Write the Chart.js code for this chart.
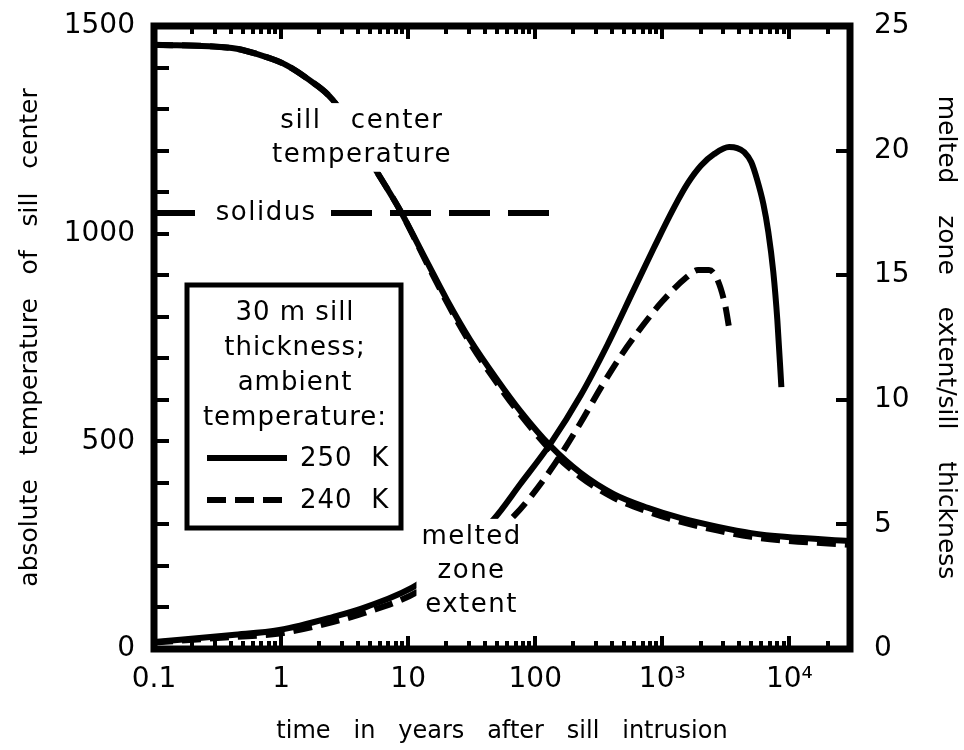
<!DOCTYPE html>
<html>
<head>
<meta charset="utf-8">
<script src="https://cdn.jsdelivr.net/npm/chart.js@4.4.1/dist/chart.umd.min.js"></script>
<style>
  html, body { margin: 0; padding: 0; background: #fff; }
</style>
</head>
<body>
<canvas id="myChart" width="964" height="750"></canvas>
<script>
// time axis (years after intrusion)
var tickTimes = [0.1, 1, 10, 100, 1000, 10000];
var tickTimeLabels = ['0.1', '1', '10', '100', '10\u00B3', '10\u2074'];
var tickTemps = [0, 500, 1000, 1500];
var tickMelt = [0, 5, 10, 15, 20, 25];

// sill center temperature (K)
var timeTemp = [0.1, 0.41, 0.77, 1.1, 1.58, 2.55, 5.67, 8.61, 14.08, 20.25, 30.8, 50.3, 76.4, 131.8, 227.5, 415, 769, 1403, 2750, 5010, 9140, 30000];
var temp250 = [1455, 1447, 1425, 1406, 1375, 1322, 1149, 1057, 932, 840, 744, 648, 573, 489, 424, 373, 340, 315, 294, 279, 270, 260];
var temp240 = [1455, 1447, 1425, 1406, 1375, 1322, 1149, 1057, 928, 834, 736, 639, 564, 479, 414, 364, 331, 306, 285, 270, 261, 251];

// melted zone extent / sill thickness
var timeMelt250 = [0.1, 0.413, 0.97, 2.55, 4.7, 12.4, 46.6, 76.4, 131.8, 227.5, 372, 597, 859, 1236, 1593, 2018, 2557, 3360, 3880, 4415, 5010, 5585, 6240, 6830, 7475, 8040, 8650];
var melt250 = [0.28, 0.56, 0.76, 1.28, 1.69, 2.65, 5.18, 6.62, 8.24, 10.17, 12.23, 14.42, 16.1, 17.71, 18.7, 19.4, 19.86, 20.14, 20.1, 19.94, 19.54, 18.82, 17.86, 16.73, 15.13, 13.2, 10.51];
var timeMelt240 = [0.1, 0.413, 0.97, 2.55, 4.7, 12.4, 67, 132, 227, 327, 471, 678, 993, 1563, 1910, 2330, 2700, 3122, 3357];
var melt240 = [0.26, 0.48, 0.62, 1.08, 1.47, 2.35, 5.3, 7.18, 9.07, 10.47, 11.76, 12.88, 13.93, 14.93, 15.21, 15.21, 14.85, 13.8, 12.88];

// solidus
var solidusTime = [0.1, 135];
var solidusTemp = 1050;

var FONT = '"DejaVu Sans", Verdana, sans-serif';
var dash240 = [19, 9];

function toPoints(xs, ys) {
    return xs.map(function(t, i) { return {x: t, y: ys[i]}; });
}

// box round the plot and ticks pointing inwards
var frameAndTicks = {
    id: 'frameAndTicks',
    afterDatasetsDraw: function(chart) {
        var ctx = chart.ctx, a = chart.chartArea, sc = chart.scales;
        ctx.save();
        ctx.strokeStyle = '#000';
        ctx.lineWidth = 4;
        ctx.beginPath();
        for (var d = -1; d <= 4; d++) {
            for (var m = 1; m <= 9; m++) {
                var v = m * Math.pow(10, d);
                if (v > sc.x.max) break;
                var px = Math.round(sc.x.getPixelForValue(v));
                var len = m === 1 ? 13 : 8;
                ctx.moveTo(px, a.bottom); ctx.lineTo(px, a.bottom - len);
                ctx.moveTo(px, a.top); ctx.lineTo(px, a.top + len);
            }
        }
        for (var t = 100; t < sc.y.max; t += 100) {
            var py = Math.round(sc.y.getPixelForValue(t));
            ctx.moveTo(a.left, py); ctx.lineTo(a.left + 15, py);
        }
        for (var k = 5; k < sc.y2.max; k += 5) {
            var py2 = Math.round(sc.y2.getPixelForValue(k));
            ctx.moveTo(a.right, py2); ctx.lineTo(a.right - 14, py2);
        }
        ctx.stroke();
        ctx.lineWidth = 7;
        ctx.strokeRect(a.left, a.top, a.right - a.left, a.bottom - a.top);
        ctx.restore();
    }
};

// curve labels, with white behind them
var notes = {
    id: 'notes',
    afterDatasetsDraw: function(chart) {
        var ctx = chart.ctx, x = chart.scales.x, y = chart.scales.y;
        var groups = [
            {t: 4.25, T: [1271, 1190], lines: ['sill   center', 'temperature']},
            {t: 0.75, T: [1050], lines: ['solidus']},
            {t: 31, T: [270, 186, 106], lines: ['melted', 'zone', 'extent']}
        ];
        ctx.save();
        ctx.font = '26px ' + FONT;
        ctx.letterSpacing = '1.5px';
        ctx.textAlign = 'center';
        ctx.textBaseline = 'middle';
        groups.forEach(function(g) {
            var cx = x.getPixelForValue(g.t);
            var w = 0;
            g.lines.forEach(function(s) { w = Math.max(w, ctx.measureText(s).width); });
            var top = y.getPixelForValue(g.T[0]) - 18;
            var bot = y.getPixelForValue(g.T[g.T.length - 1]) + 17;
            ctx.fillStyle = '#fff';
            ctx.fillRect(cx - w / 2 - 4, top, w + 8, bot - top);
            ctx.fillStyle = '#000';
            g.lines.forEach(function(s, i) {
                ctx.fillText(s, cx + 1, y.getPixelForValue(g.T[i]));
            });
        });
        ctx.restore();
    }
};

// key box
var keyBox = {
    id: 'keyBox',
    afterDatasetsDraw: function(chart) {
        var ctx = chart.ctx;
        var bx = 187, by = 285, bw = 214, bh = 243;
        ctx.save();
        ctx.fillStyle = '#fff';
        ctx.fillRect(bx, by, bw, bh);
        ctx.strokeStyle = '#000';
        ctx.lineWidth = 5;
        ctx.strokeRect(bx, by, bw, bh);
        ctx.font = '26px ' + FONT;
        ctx.letterSpacing = '1px';
        ctx.fillStyle = '#000';
        ctx.textAlign = 'center';
        ctx.textBaseline = 'middle';
        ['30 m sill', 'thickness;', 'ambient', 'temperature:'].forEach(function(s, i) {
            ctx.fillText(s, bx + bw / 2 + 1, by + 28 + i * 35);
        });
        ctx.textAlign = 'left';
        var rows = [{label: '250  K', dash: []}, {label: '240  K', dash: dash240}];
        rows.forEach(function(r, i) {
            var ry = by + 173 + i * 42;
            ctx.lineWidth = 6;
            ctx.setLineDash(r.dash);
            ctx.beginPath();
            ctx.moveTo(bx + 20, ry); ctx.lineTo(bx + 100, ry);
            ctx.stroke();
            ctx.setLineDash([]);
            ctx.fillText(r.label, bx + 113, ry + 1);
        });
        ctx.restore();
    }
};

var ctx = document.getElementById('myChart');
var chart = new Chart(ctx, {
    type: 'line',
    data: {
        datasets: [
            {label: '240 K temperature', data: toPoints(timeTemp, temp240), yAxisID: 'y', borderDash: dash240},
            {label: '250 K temperature', data: toPoints(timeTemp, temp250), yAxisID: 'y'},
            {label: '240 K melted zone', data: toPoints(timeMelt240, melt240), yAxisID: 'y2', borderDash: dash240},
            {label: '250 K melted zone', data: toPoints(timeMelt250, melt250), yAxisID: 'y2'},
            {label: 'solidus', data: toPoints(solidusTime, solidusTime.map(function() { return solidusTemp; })),
             yAxisID: 'y', borderDash: [41, 18], cubicInterpolationMode: 'default', tension: 0}
        ]
    },
    options: {
        responsive: false,
        animation: false,
        layout: {padding: {top: 26, left: 0, right: 0, bottom: 0}},
        elements: {
            point: {radius: 0},
            line: {borderColor: '#000', borderWidth: 6, borderCapStyle: 'butt', borderJoinStyle: 'round',
                   fill: false, cubicInterpolationMode: 'monotone'}
        },
        plugins: {legend: {display: false}, tooltip: {enabled: false}},
        scales: {
            x: {
                type: 'logarithmic', position: 'bottom', min: 0.1, max: 30000,
                afterBuildTicks: function(s) { s.ticks = tickTimes.map(function(v) { return {value: v}; }); },
                afterFit: function(s) { s.height = 101; },
                grid: {display: false}, border: {display: false},
                ticks: {
                    autoSkip: false, maxRotation: 0, padding: 6, color: '#000',
                    font: {family: FONT, size: 28},
                    callback: function(v) { return tickTimeLabels[tickTimes.indexOf(v)]; }
                },
                title: {display: true, text: 'time   in   years   after   sill   intrusion', color: '#000',
                        font: {family: FONT, size: 24}, padding: {top: 0, bottom: 4}}
            },
            y: {
                type: 'linear', position: 'left', min: 0, max: 1500,
                afterBuildTicks: function(s) { s.ticks = tickTemps.map(function(v) { return {value: v}; }); },
                afterFit: function(s) { s.width = 154; s.paddingTop = 0; s.paddingBottom = 0; },
                grid: {display: false}, border: {display: false},
                ticks: {padding: 11, color: '#000', font: {family: FONT, size: 28},
                        callback: function(v) { return String(v); }},
                title: {display: true, text: 'absolute   temperature   of   sill   center', color: '#000',
                        font: {family: FONT, size: 25}, padding: {top: 15, bottom: 0}}
            },
            y2: {
                type: 'linear', position: 'right', min: 0, max: 25,
                afterBuildTicks: function(s) { s.ticks = tickMelt.map(function(v) { return {value: v}; }); },
                afterFit: function(s) { s.width = 114; s.paddingTop = 0; s.paddingBottom = 0; },
                grid: {display: false}, border: {display: false},
                ticks: {padding: 16, color: '#000', font: {family: FONT, size: 28},
                        callback: function(v) { return String(v); }},
                title: {display: true, text: 'melted    zone    extent/sill    thickness', color: '#000',
                        font: {family: FONT, size: 25}, padding: {top: 4, bottom: 0}}
            }
        }
    },
    plugins: [frameAndTicks, notes, keyBox]
});
</script>
</body>
</html>
